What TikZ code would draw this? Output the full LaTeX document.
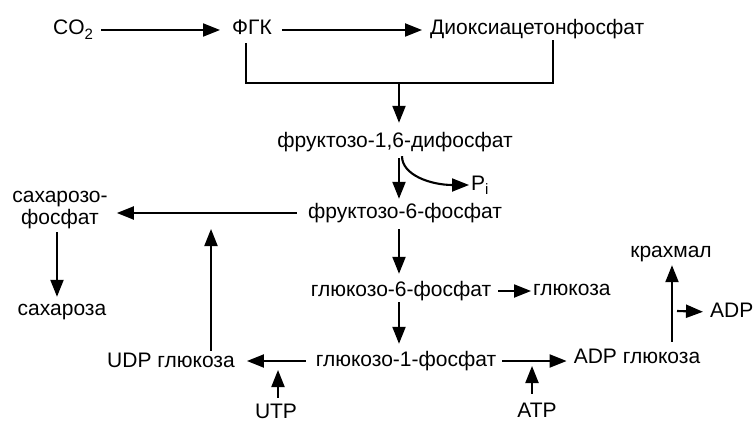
\documentclass[tikz,border=0pt]{standalone}
\usepackage{fontspec}
\setmainfont{Liberation Sans}
\usetikzlibrary{arrows.meta,calc}
\newcommand{\mysub}[1]{\raisebox{-4.5pt}{\fontsize{15}{15}\selectfont #1}}
\begin{document}
\begin{tikzpicture}[x=1pt,y=-1pt,
  lbl/.style={inner xsep=0pt, inner ysep=0pt, text height=14pt, text depth=4pt,
    font=\fontsize{21}{22}\selectfont},
  ln/.style={draw=black, line width=2.1pt},
  arr/.style={ln, -{Triangle[length=17pt,width=13pt]}, shorten >=8pt, shorten <=7pt}]
\useasboundingbox (0,0) rectangle (754,425);
% nodes
\node[lbl, anchor=west] (co2) at (53,30) {CO\mysub{2}};
\node[lbl, anchor=west] (fgk) at (232,30) {ФГК};
\node[lbl, anchor=west] (diox) at (430,30) {Диоксиацетонфосфат};
\node[lbl] (f16) at (395,142) {фруктозо-1,6-дифосфат};
\node[lbl, anchor=west] (pi) at (471,185) {P\mysub{i}};
\node[lbl] (f6) at (405,213) {фруктозо-6-фосфат};
\node[lbl, align=center, anchor=north] (sp) at (60,210) {сахарозо-\\фосфат};
\node[lbl] (sacch) at (62,310) {сахароза};
\node[lbl] (g6) at (401,291) {глюкозо-6-фосфат};
\node[lbl, anchor=west] (gl) at (533,290) {глюкоза};
\node[lbl] (g1) at (406,361) {глюкозо-1-фосфат};
\node[lbl] (udp) at (171,362) {UDP глюкоза};
\node[lbl] (utp) at (276,413) {UTP};
\node[lbl] (adpg) at (637,358) {ADP глюкоза};
\node[lbl] (atp) at (537,412) {ATP};
\node[lbl] (kr) at (671,252) {крахмал};
\node[lbl, anchor=west] (adp) at (710,312) {ADP};
% helper coordinates
\coordinate (j) at (399,83);
\coordinate (uj) at (211,229);
\coordinate (ut) at (278,370);
\coordinate (at) at (532,366);
\coordinate (kj) at (677,311);
\coordinate (kx) at (672,0);
\coordinate (sx) at (57,0);
% connectors
\draw[arr, shorten <=8pt, shorten >=12pt] (co2) -- (fgk);
\draw[arr, shorten <=10pt, shorten >=8pt] (fgk) -- (diox);
\draw[ln] ($(fgk.south west)+(14,4)$) |- (j) -| ($(diox.south west)+(123,1)$);
\draw[arr, shorten <=0pt, shorten >=10pt] (j) -- (f16.north -| j);
\draw[arr, shorten >=5pt] (f16.south -| j) -- (f6.north -| j);
\draw[arr, shorten <=1pt, shorten >=2pt] ($(f16.south -| j)+(3,4)$) .. controls +(0,20) and +(-40,0) .. (pi.west);
\draw[arr, shorten <=11pt, shorten >=9pt] (f6.west) -- (f6.west -| sp.east);
\draw[arr, shorten <=4pt, shorten >=4pt] (sp.south -| sx) -- (sacch.north -| sx);
\draw[arr] (f6.south -| j) -- (g6.north -| j);
\draw[arr, shorten <=2pt] (g6.south -| j) -- (g1.north -| j);
\draw[arr, shorten <=7pt, shorten >=2pt] (g6.east) -- (g6.east -| gl.west);
\draw[arr, shorten <=10pt, shorten >=12pt] (g1.west) -- (g1.west -| udp.east);
\draw[arr, shorten <=2pt, shorten >=0pt] (udp.north -| uj) -- (uj);
\draw[arr, shorten <=6pt, shorten >=0pt] (utp.north -| ut) -- (ut);
\draw[arr, shorten <=6pt, shorten >=7pt] (g1.east) -- (g1.east -| adpg.west);
\draw[arr, shorten <=9pt, shorten >=0pt] (atp.north -| at) -- (at);
\draw[arr, shorten >=4pt] (adpg.north -| kx) -- (kr.south -| kx);
\draw[arr, shorten <=0pt, shorten >=7pt] (kj) -- (adp.west);
\end{tikzpicture}
\end{document}
